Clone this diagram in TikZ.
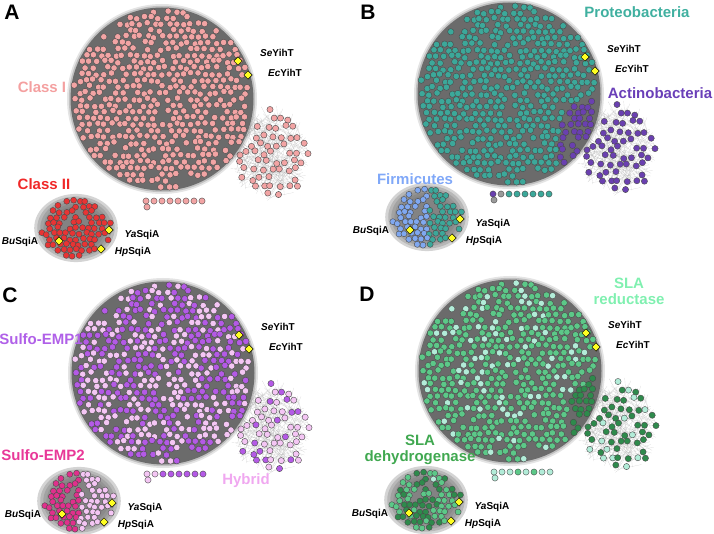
\documentclass[tikz,border=0pt]{standalone}
\usepackage{fontspec}
\setmainfont{Liberation Sans}
\usetikzlibrary{shapes.geometric}
\definecolor{blobgray}{HTML}{6B6B6B}
\definecolor{smallgray}{HTML}{727272}
\definecolor{ndedge}{HTML}{4A4A4A}
\definecolor{ydia}{HTML}{FFFF22}
\definecolor{pinkA}{HTML}{F2A4A4}
\definecolor{redA}{HTML}{E83434}
\definecolor{tealB}{HTML}{3CA89A}
\definecolor{purpB}{HTML}{6A40B0}
\definecolor{blueB}{HTML}{80A8F0}
\definecolor{grayB}{HTML}{9A9A9A}
\definecolor{purpC}{HTML}{B45AE6}
\definecolor{lpinkC}{HTML}{F4C6F4}
\definecolor{magC}{HTML}{E0308C}
\definecolor{greenD}{HTML}{5CC888}
\definecolor{paleD}{HTML}{B2ECD8}
\definecolor{dgreenD}{HTML}{2E8A4C}
\definecolor{labI}{HTML}{F4A0A0}
\definecolor{labII}{HTML}{F02828}
\definecolor{labProt}{HTML}{40B0A0}
\definecolor{labAct}{HTML}{6A3FB8}
\definecolor{labFirm}{HTML}{80A8F8}
\definecolor{labE1}{HTML}{B060E8}
\definecolor{labE2}{HTML}{E83898}
\definecolor{labHyb}{HTML}{F0A8F0}
\definecolor{labRed}{HTML}{80F0B0}
\definecolor{labDeh}{HTML}{40A850}
\tikzset{
  nd/.style={line width=0.4pt, draw=ndedge},
  hazeline/.style={line width=0.15pt, draw=gray!70, opacity=0.55},
  yd/.style={diamond, draw=black, fill=ydia, line width=0.5pt, minimum size=8.5pt, inner sep=0pt},
  slab/.style={font=\fontsize{10}{12}\selectfont\bfseries, text=black, inner sep=0pt},
  glab/.style={font=\fontsize{15}{16}\selectfont\bfseries, align=center, inner sep=0pt},
  plab/.style={font=\fontsize{21}{24}\selectfont\bfseries, inner sep=0pt},
}
\newcommand\bigcolor[1]{%
  \ifcase#1
    \def\ncol{pinkA}%
  \or
    \ifdim\Ds pt<38pt \def\ncol{purpB}\else\def\ncol{tealB}\fi
  \or
    \ifdim\Rc pt<0.5pt \def\ncol{purpC}\else\def\ncol{lpinkC}\fi
  \or
    \ifdim\Ds pt<30pt \def\ncol{dgreenD}\else
      \ifdim\Rc pt<0.16pt \def\ncol{paleD}\else\def\ncol{greenD}\fi\fi
  \fi}
\newcommand\satcolor[1]{%
  \ifcase#1
    \def\ncol{pinkA}%
  \or
    \def\ncol{purpB}%
  \or
    \ifdim\Rc pt<0.25pt \def\ncol{purpC}\else\def\ncol{lpinkC}\fi
  \or
    \ifdim\Rc pt<0.2pt \def\ncol{paleD}\else\def\ncol{dgreenD}\fi
  \fi}
\newcommand\smallcolor[1]{%
  \ifcase#1
    \def\ncol{redA}%
  \or
    \ifdim\Xp pt<1pt \def\ncol{blueB}\else\def\ncol{tealB}\fi
  \or
    \ifdim\Xp pt<0pt \def\ncol{magC}\else\def\ncol{lpinkC}\fi
  \or
    \ifdim\Xp pt<0pt
      \ifdim\Rc pt<0.25pt \def\ncol{greenD}\else\def\ncol{dgreenD}\fi
    \else
      \ifdim\Rc pt<0.3pt \def\ncol{dgreenD}\else
        \ifdim\Rc pt>0.9pt \def\ncol{paleD}\else\def\ncol{greenD}\fi\fi
    \fi
  \fi}
% big blob: #1,#2 centre, #3 panel
\newcommand\bigblob[3]{%
  \fill[blobgray, opacity=0.18] (#1,#2) circle (95);
  \fill[blobgray, opacity=0.3] (#1,#2) circle (93.2);
  \fill[blobgray] (#1,#2) circle (91.5);
  \pgfmathsetseed{4242}%
  \foreach \j in {-14,...,14}{%
    \foreach \i in {-13,...,13}{%
      \pgfmathsetmacro\Xp{\i*7.2+mod(abs(\j),2)*3.6+1.4*rand}%
      \pgfmathsetmacro\Yp{\j*6.25+1.4*rand}%
      \pgfmathsetmacro\Kp{rnd}%
      \pgfmathsetmacro\Rc{rnd}%
      \pgfmathsetmacro\Dd{(\Xp/10)^2+(\Yp/10)^2}%
      \pgfmathsetmacro\Ds{((\Xp-110)/10)^2+((\Yp-54)/10)^2}%
      \ifdim\Dd pt<79pt\relax
        \ifdim\Kp pt>0.15pt\relax
          \bigcolor{#3}%
          \fill[nd, fill=\ncol] ({#1+\Xp},{#2+\Yp}) circle (3.2);
        \fi
      \fi
    }%
  }%
}
% satellite cluster relative to blob centre
\newcommand\satellite[3]{%
  \pgfmathsetseed{777}%
  \foreach \k in {1,...,170}{%
    \pgfmathsetmacro\Aa{360*rnd}\pgfmathsetmacro\Ra{sqrt(rnd)}%
    \pgfmathsetmacro\Ab{360*rnd}\pgfmathsetmacro\Rb{sqrt(rnd)}%
    \pgfmathsetmacro\Pxa{#1+108+42*\Ra*cos(\Aa)}%
    \pgfmathsetmacro\Pya{#2+54+48*\Ra*sin(\Aa)}%
    \pgfmathsetmacro\Pxb{#1+108+42*\Rb*cos(\Ab)}%
    \pgfmathsetmacro\Pyb{#2+54+48*\Rb*sin(\Ab)}%
    \draw[hazeline] (\Pxa,\Pya) -- (\Pxb,\Pyb);
  }%
  \pgfmathsetseed{999}%
  \foreach \j in {-5,...,5}{%
    \foreach \i in {-5,...,5}{%
      \pgfmathsetmacro\Xp{\i*8.6+mod(abs(\j),2)*4.3+2.4*rand}%
      \pgfmathsetmacro\Yp{\j*8.4+2.4*rand}%
      \pgfmathsetmacro\Kp{rnd}%
      \pgfmathsetmacro\Rc{rnd}%
      \pgfmathsetmacro\Dd{(\Xp/39)^2+(\Yp/44)^2}%
      \pgfmathsetmacro\Db{((\Xp+110)/10)^2+((\Yp+54)/10)^2}%
      \ifdim\Dd pt<1pt\relax
        \ifdim\Kp pt>0.2pt\relax
          \ifdim\Db pt>88pt\relax
            \satcolor{#3}%
            \fill[nd, fill=\ncol] ({#1+110+\Xp},{#2+54+\Yp}) circle (3.1);
          \fi
        \fi
      \fi
    }%
  }%
}
% small cluster: centre #1,#2
\newcommand\smallclus[3]{%
  \foreach \s in {1.1,1.02,0.94,0.86,0.78,0.7}{%
    \fill[smallgray, opacity=0.3] (#1,#2) ellipse ({38*\s} and {31*\s});
  }%
  \pgfmathsetseed{555}%
  \foreach \j in {-6,...,6}{%
    \foreach \i in {-7,...,7}{%
      \pgfmathsetmacro\Xp{\i*6.4+mod(abs(\j),2)*3.2+1.2*rand}%
      \pgfmathsetmacro\Yp{\j*5.5+1.2*rand}%
      \pgfmathsetmacro\Kp{rnd}%
      \pgfmathsetmacro\Rc{rnd}%
      \pgfmathsetmacro\Dd{(\Xp/35.5)^2+(\Yp/29)^2}%
      \ifdim\Dd pt<1pt\relax
        \ifdim\Kp pt>0.15pt\relax
          \smallcolor{#3}%
          \fill[nd, fill=\ncol] ({#1+\Xp},{#2+\Yp}) circle (3.0);
        \fi
      \fi
    }%
  }%
}
% row of detached nodes, relative to blob centre
\newcommand\noderow[3]{%
  \foreach [count=\n] \rowc in {#3}{%
    \ifnum\n<9
      \fill[nd, fill=\rowc] ({#1-16+8*\n-8},{#2+102}) circle (3.1);
    \else
      \fill[nd, fill=\rowc] ({#1-15},{#2+108}) circle (3.1);
    \fi
  }%
}
% diamonds and labels: blob centre #1,#2; small centre #3,#4; suffix #5
\newcommand\placemarks[5]{%
  \node[yd] (se#5) at ({#1+76},{#2-38}) {};
  \node[yd] (ec#5) at ({#1+86},{#2-24}) {};
  \node[slab] (sel#5) at ({#1+115},{#2-46}) {\itshape Se\upshape YihT};
  \node[slab] (ecl#5) at ({#1+123},{#2-26}) {\itshape Ec\upshape YihT};
  \node[yd] (ya#5) at ({#3+33},{#4+2}) {};
  \node[yd] (bu#5) at ({#3-17},{#4+13}) {};
  \node[yd] (hp#5) at ({#3+25},{#4+21}) {};
  \node[slab] (yal#5) at ({#3+66},{#4+7}) {\itshape Ya\upshape SqiA};
  \node[slab] (bul#5) at ({#3-56},{#4+14}) {\itshape Bu\upshape SqiA};
  \node[slab] (hpl#5) at ({#3+57},{#4+24}) {\itshape Hp\upshape SqiA};
}
\begin{document}
\begin{tikzpicture}[x=1pt,y=-1pt]
\useasboundingbox (0,0) rectangle (714,534);
% ---------------- Panel A
\satellite{162}{99}{0}
\bigblob{162}{99}{0}
\noderow{162}{99}{pinkA,pinkA,pinkA,pinkA,pinkA,pinkA,pinkA,pinkA,pinkA}
\smallclus{76}{228}{0}
\placemarks{162}{99}{76}{228}{A}
\node[plab] (pA) at (12,12) {A};
\node[glab, text=labI] (cI) at (42,87) {Class I};
\node[glab, text=labII] (cII) at (44,184) {Class II};
% ---------------- Panel B
\satellite{509}{94}{1}
\bigblob{509}{94}{1}
\noderow{509}{92}{purpB,grayB,tealB,tealB,tealB,tealB,tealB,tealB,grayB}
\smallclus{427}{217}{1}
\placemarks{509}{95}{427}{217}{B}
\node[plab] (pB) at (368,12) {B};
\node[glab, text=labProt] (prot) at (637,12) {Proteobacteria};
\node[glab, text=labAct] (act) at (660,93) {Actinobacteria};
\node[glab, text=labFirm] (firm) at (415,179) {Firmicutes};
% ---------------- Panel C
\satellite{163}{373}{2}
\bigblob{163}{373}{2}
\noderow{163}{372}{lpinkC,lpinkC,purpC,purpC,purpC,purpC,purpC,purpC,lpinkC}
\smallclus{79}{501}{2}
\placemarks{163}{373}{79}{501}{C}
\node[plab] (pC) at (10,295) {C};
\node[glab, text=labE1] (e1) at (41,339) {Sulfo-EMP1};
\node[glab, text=labE2] (e2) at (43,455) {Sulfo-EMP2};
\node[glab, text=labHyb] (hyb) at (246,481) {Hybrid};
% ---------------- Panel D
\satellite{510}{371}{3}
\bigblob{510}{371}{3}
\noderow{510}{370}{paleD,paleD,paleD,greenD,paleD,greenD,paleD,paleD,paleD}
\smallclus{426}{500}{3}
\placemarks{510}{371}{426}{500}{D}
\node[plab] (pD) at (367,294) {D};
\node[glab, text=labRed] (slar) at (629,291) {SLA\\reductase};
\node[glab, text=labDeh] (slad) at (420,450) {SLA\\dehydrogenase};
\end{tikzpicture}
\end{document}
